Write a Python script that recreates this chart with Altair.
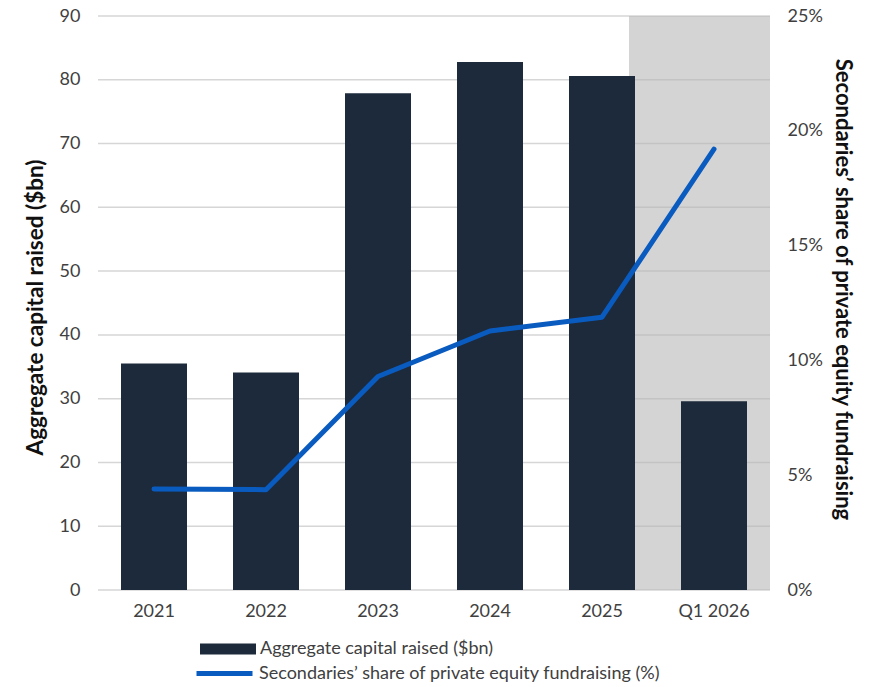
import altair as alt
import pandas as pd

years = ["2021", "2022", "2023", "2024", "2025", "Q1 2026"]
capital = [35.5, 34.1, 77.9, 82.8, 80.6, 29.6]
share = [0.044, 0.0437, 0.093, 0.1128, 0.1188, 0.192]
grid_ticks = [0, 10, 20, 30, 40, 50, 60, 70, 80, 90]

bar_label = "Aggregate capital raised ($bn)"
line_label = "Secondaries\u2019 share of private equity fundraising (%)"

df = pd.DataFrame({"year": years, "capital": capital, "share": share,
                   "bar_series": [bar_label] * len(years),
                   "line_series": [line_label] * len(years)})
grid_df = pd.DataFrame({"tick": grid_ticks})

FONT = "Lato"
W, H = 672, 574

xscale = alt.Scale(domain=years, paddingInner=0.41, paddingOuter=0.205)
xaxis = alt.Axis(title=None, labelFont=FONT, labelFontSize=18, labelColor="#404040",
                 ticks=False, domain=False, grid=False, labelPadding=12, labelAngle=0)
yscale = alt.Scale(domain=[0, 90], nice=False, zero=True)
yaxis = alt.Axis(title="Aggregate capital raised ($bn)", orient="left",
                 values=grid_ticks, grid=False, ticks=False, domain=False,
                 labelFont=FONT, labelFontSize=18, labelColor="#404040",
                 labelPadding=18, titleFont=FONT, titleFontSize=22.5,
                 titleFontWeight="bold", titleColor="#111111", titlePadding=12,
                 titleY=291)

shade = alt.Chart(df).mark_rect(color="#d4d4d4", xOffset=-6).encode(
    x=alt.X(datum="2025", bandPosition=1, scale=xscale, axis=xaxis, type="nominal"),
    x2=alt.value(W),
    y=alt.value(0),
    y2=alt.value(H),
)

rules = alt.Chart(grid_df).mark_rule(color="#b5b5b5", opacity=0.55, strokeWidth=1.5).encode(
    y=alt.Y("tick:Q", scale=yscale, axis=yaxis),
)

bars = alt.Chart(df).mark_bar(size=66).encode(
    x=alt.X("year:N", scale=xscale, axis=xaxis, sort=years),
    y=alt.Y("capital:Q", scale=yscale, axis=yaxis),
    fill=alt.Fill("bar_series:N",
                  scale=alt.Scale(domain=[bar_label], range=["#1c2a3b"]),
                  legend=alt.Legend(title=None, orient="none", legendX=102, legendY=605,
                                    symbolType="M-1,-0.2H1V0.2H-1Z", symbolSize=3136,
                                    symbolStrokeWidth=0,
                                    labelFont=FONT, labelFontSize=18, labelColor="#404040",
                                    labelLimit=600, labelOffset=4)),
)

left = alt.layer(shade, rules, bars)

line = alt.Chart(df).mark_line(strokeWidth=5, strokeCap="round", strokeJoin="round").encode(
    x=alt.X("year:N", scale=xscale, axis=xaxis, sort=years),
    y=alt.Y("share:Q", scale=alt.Scale(domain=[0, 0.25], nice=False),
            axis=alt.Axis(title="Secondaries\u2019 share of private equity fundraising",
                          orient="right", format=".0%", values=[0, 0.05, 0.1, 0.15, 0.2, 0.25],
                          grid=False, ticks=False, domain=False,
                          labelFont=FONT, labelFontSize=18, labelColor="#404040",
                          labelPadding=17, titleFont=FONT, titleFontSize=22,
                          titleFontWeight="bold", titleColor="#111111", titlePadding=8,
                          titleY=273)),
    stroke=alt.Stroke("line_series:N",
                      scale=alt.Scale(domain=[line_label], range=["#0a5bbf"]),
                      legend=alt.Legend(title=None, orient="none", legendX=96, legendY=627,
                                        symbolType="stroke", symbolSize=3136,
                                        symbolStrokeWidth=5,
                                        labelFont=FONT, labelFontSize=18, labelColor="#404040",
                                        labelLimit=600, labelOffset=4)),
)

chart = alt.layer(left, line).resolve_scale(y="independent").properties(
    width=W, height=H,
    autosize=alt.AutoSizeParams(type="none"),
    padding={"left": 98, "top": 16, "right": 99, "bottom": 97},
).configure_view(stroke=None)

chart.save("out.html", embed_options={"renderer": "svg", "actions": False})
